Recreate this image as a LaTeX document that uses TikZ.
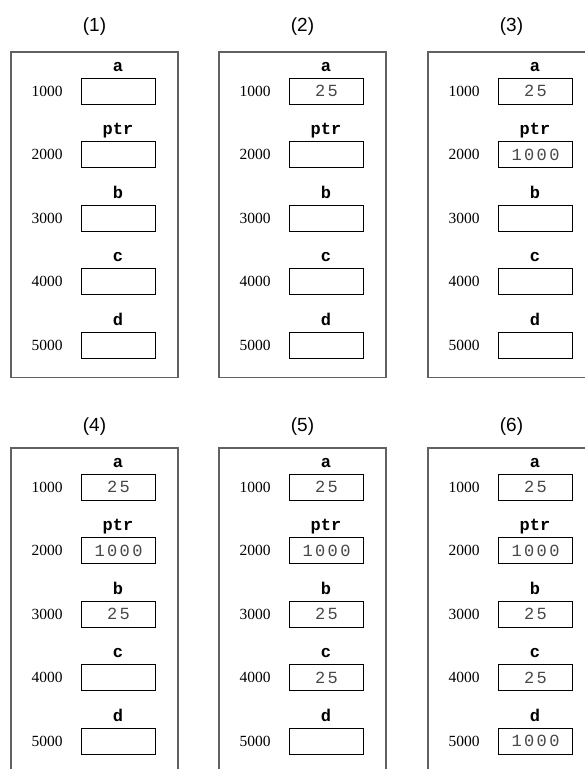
\documentclass[tikz,border=0pt]{standalone}
\usepackage{fontspec}
\setmainfont{Liberation Serif}
\newfontfamily\titlefont{Liberation Sans}
\newfontfamily\namefont{Liberation Mono}
\newfontfamily\valfont[LetterSpace=14]{Liberation Mono}
\tikzset{
  panel/.style={draw=black!62, line width=1.4pt, minimum width=167pt, minimum height=325.5pt, inner sep=0pt},
  membox/.style={draw=black, line width=0.9pt, minimum width=74pt, minimum height=26pt, inner sep=0pt,
    font=\valfont\fontsize{17}{17}\selectfont, text=black!72},
  addr/.style={font=\fontsize{15.5}{15.5}\selectfont, inner sep=0pt},
  varname/.style={font=\namefont\bfseries\fontsize{17}{17}\selectfont, anchor=base, inner sep=0pt},
  title/.style={font=\titlefont\fontsize{19}{19}\selectfont, inner sep=0pt}
}
\begin{document}
\begin{tikzpicture}[x=1pt,y=-1pt]
\useasboundingbox (0,0) rectangle (585,769);
\clip (0,0) rectangle (585,769);
\foreach \i/\px/\py/\ty/\va/\vp/\vb/\vc/\vd in {
  1/11/52/27/{}/{}/{}/{}/{},
  2/219/52/27/25/{}/{}/{}/{},
  3/428/52/27/25/1000/{}/{}/{},
  4/11/448/426.5/25/1000/25/{}/{},
  5/219/448/426.5/25/1000/25/25/{},
  6/428/448/426.5/25/1000/25/25/1000}{
  \node[panel] (p\i) at (\px+83.5,\py+162.75) {};
  \node[title] (t\i) at (\px+83.5,\ty) {(\i)};
  \foreach \j/\nm/\ad in {0/a/1000,1/ptr/2000,2/b/3000,3/c/4000,4/d/5000}{
    \node[membox] (b\i\nm) at (\px+107,\py+39+63.5*\j) {\hspace{1pt}\ifcase\j\relax \va\or\vp\or\vb\or\vc\or\vd\fi};
    \node[addr] (ad\i\nm) at (\px+36,\py+39+63.5*\j) {\ad};
    \node[varname] (lb\i\nm) at (\px+107,\py+19+63.5*\j) {\nm};
  }
}
\end{tikzpicture}
\end{document}
